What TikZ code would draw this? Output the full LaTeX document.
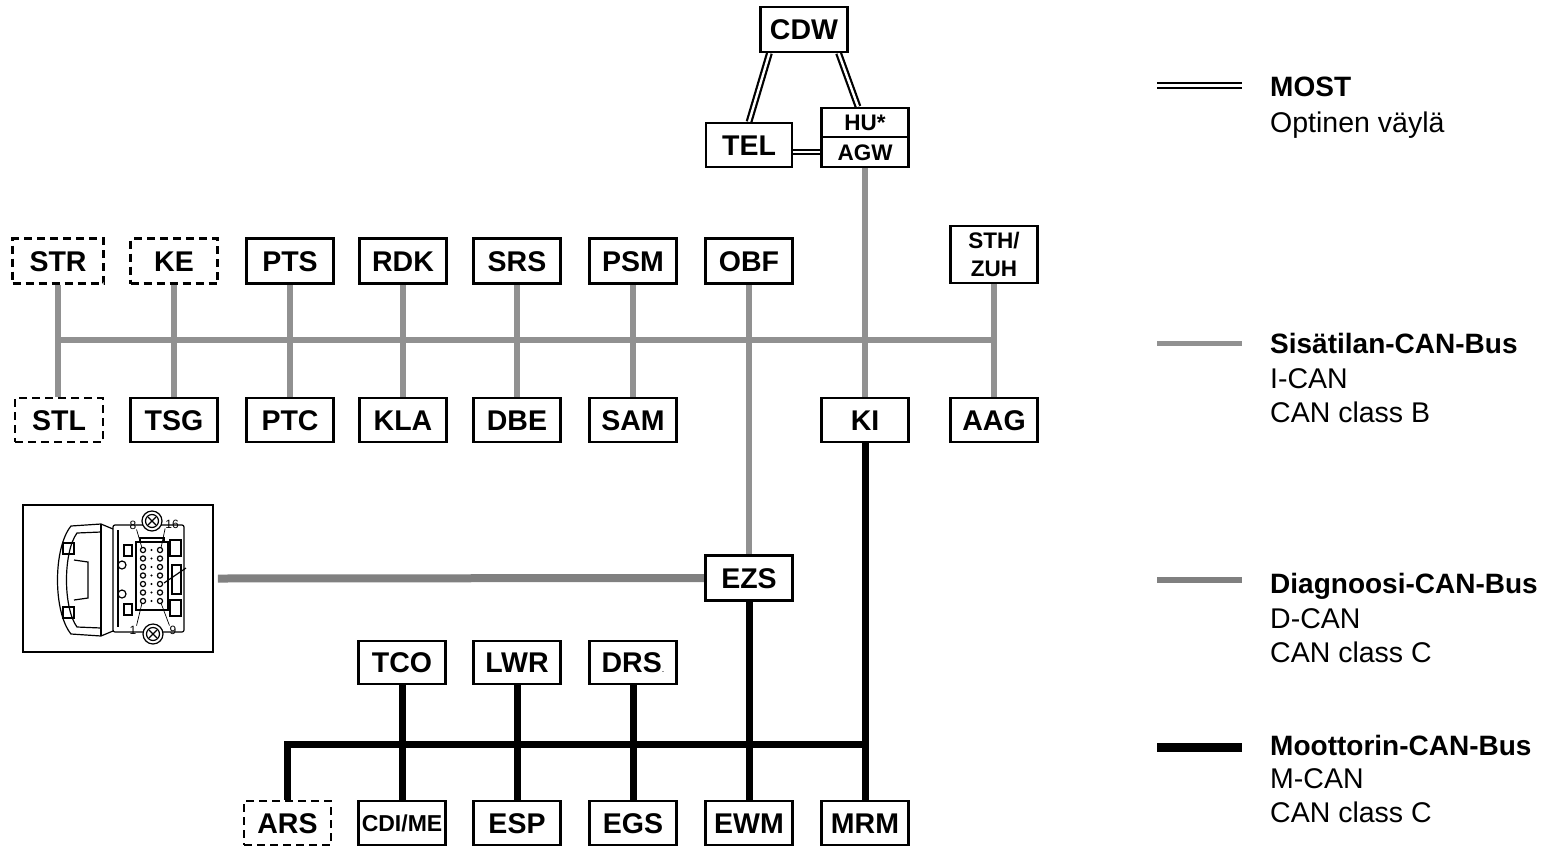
\documentclass[tikz,border=0pt]{standalone}
\usepackage{fontspec}
\setmainfont{Liberation Sans}
\definecolor{icangray}{gray}{0.57}
\definecolor{dcangray}{gray}{0.5}
\pgfdeclarelayer{bg}
\pgfsetlayers{bg,main}
\begin{document}
\begin{tikzpicture}[x=1pt,y=-1pt,
  boxbase/.style={draw, line width=2.1pt, fill=white, minimum width=87pt, minimum height=45pt, inner sep=0pt},
  box/.style={boxbase, text height=20.5pt, text depth=0pt, font=\fontsize{28.5}{30}\selectfont\bfseries},
  dbox/.style={box, dash pattern=on 8pt off 5pt},
  sbox/.style={boxbase, text height=16pt, text depth=0pt, font=\fontsize{22.5}{26}\selectfont\bfseries},
  ican/.style={line width=6pt, draw=icangray},
  dcan/.style={line width=8pt, draw=dcangray},
  mcan/.style={line width=7pt, draw=black, line join=miter},
  most/.style={line width=2.2pt, draw=black, double=white, double distance=2.4pt},
  legb/.style={anchor=base west, inner sep=0pt, font=\fontsize{28}{30}\selectfont\bfseries},
  legr/.style={anchor=base west, inner sep=0pt, font=\fontsize{28.5}{30}\selectfont},
  pinlbl/.style={inner sep=0pt, font=\fontsize{12}{12}\selectfont}
]
\useasboundingbox (0,0) rectangle (1554,846);

% ---------- top MOST ring ----------
\node[box] (CDW) at (804,29.5) {CDW};
\node[box, minimum width=86pt, minimum height=44pt] (TEL) at (749,145) {TEL};
\node[sbox, minimum height=29.5pt] (HU) at (865,122.5) {HU*};
\node[sbox, minimum height=30pt] (AGW) at (865,152) {AGW};

% ---------- I-CAN row ----------
\node[dbox, minimum width=91pt] (STR) at (58,261) {STR};
\node[dbox] (KE) at (174,261) {KE};
\node[box] (PTS) at (290,261) {PTS};
\node[box] (RDK) at (403,261) {RDK};
\node[box] (SRS) at (517,261) {SRS};
\node[box] (PSM) at (633,261) {PSM};
\node[box] (OBF) at (749,261) {OBF};
\node[boxbase, minimum height=57pt, align=center, font=\fontsize{22.5}{28}\selectfont\bfseries] (STH) at (994,254.5) {STH/\\ZUH};

\node[dbox, minimum width=88pt, minimum height=44pt] (STL) at (59,420) {STL};
\node[box, minimum height=44pt] (TSG) at (174,420) {TSG};
\node[box, minimum height=44pt] (PTC) at (290,420) {PTC};
\node[box, minimum height=44pt] (KLA) at (403,420) {KLA};
\node[box, minimum height=44pt] (DBE) at (517,420) {DBE};
\node[box, minimum height=44pt] (SAM) at (633,420) {SAM};
\node[box, minimum height=44pt] (KI) at (865,420) {KI};
\node[box, minimum height=44pt] (AAG) at (994,420) {AAG};

% ---------- EZS / M-CAN ----------
\node[box] (EZS) at (749,578) {EZS};
\node[box, minimum height=43pt] (TCO) at (402,662.5) {TCO};
\node[box, minimum height=43pt] (LWR) at (517,662.5) {LWR};
\node[box, minimum height=43pt] (DRS) at (633,662.5) {DRS{\fontsize{9}{9}\selectfont\mdseries.}};

\node[dbox, minimum height=44pt] (ARS) at (287.5,823) {ARS};
\node[boxbase, minimum height=44pt, text height=17pt, text depth=0pt, font=\fontsize{23}{26}\selectfont\bfseries] (CDI) at (402,823) {CDI/ME};
\node[box, minimum height=44pt] (ESP) at (517,823) {ESP};
\node[box, minimum height=44pt] (EGS) at (633,823) {EGS};
\node[box, minimum height=44pt] (EWM) at (749,823) {EWM};
\node[box, minimum height=44pt] (MRM) at (865,823) {MRM};

% ---------- diagnostic connector ----------
\node[draw, line width=1.8pt, minimum width=190pt, minimum height=147pt, inner sep=0pt] (OBD) at (118,578.5) {};
\begin{scope}[line width=1.2pt]
  % latch (left bracket)
  \draw (113,529) -- (101,524) -- (71,526) .. controls (53,548) and (53,612) .. (71,634) -- (101,636) -- (113,631);
  \draw (101,532) -- (77,533) .. controls (63,552) and (63,608) .. (77,627) -- (101,628);
  \draw (101,524) -- (101,636);
  \draw (63,543) rectangle (74,554);
  \draw (63,607) rectangle (74,618);
  \draw (74,560) -- (88,562) -- (88,598) -- (74,600);
  % body
  \draw[rounded corners=2pt] (113,525) rectangle (184,632);
  \draw (118,530) -- (118,627);
  \draw (122,565) circle (4);
  \draw (122,594) circle (4);
  \draw (124,545) rectangle (132,556);
  \draw (124,604) rectangle (132,615);
  % mounting ears
  \draw[fill=white] (152,521) circle (10);
  \draw (152,521) circle (6.5);
  \draw (148,517) -- (156,525) (148,525) -- (156,517);
  \draw[fill=white] (153,634) circle (10);
  \draw (153,634) circle (6.5);
  \draw (149,630) -- (157,638) (149,638) -- (157,630);
  % pin block
  \draw (136,542) rectangle (168,610);
  \draw (140,538) rectangle (164,542);
  \foreach \r in {0,...,6} {
    \draw (143,{550+\r*8.5}) circle (2.6);
    \draw (160,{550+\r*8.5}) circle (2.6);
    \fill (151.5,{550+\r*8.5}) circle (1.2);
  }
  % right side latches
  \draw (170,540) rectangle (181,556);
  \draw (170,600) rectangle (181,616);
  \draw (172,565) rectangle (181,594);
  \draw (186,568) -- (164,583);
\end{scope}
\node[pinlbl] (p8) at (133,525) {8};
\node[pinlbl] (p16) at (172,524) {16};
\node[pinlbl] (p1) at (133,630) {1};
\node[pinlbl] (p9) at (173,630) {9};
\draw[line width=0.7pt] (p8.south east) -- (142,548);
\draw[line width=0.7pt] (p16.south west) -- (161,548);
\draw[line width=0.7pt] (p1.north east) -- (142,603);
\draw[line width=0.7pt] (p9.north west) -- (161,603);

% ---------- legend ----------
\coordinate (lm1) at (1157,85.5);  \coordinate (lm2) at (1242,85.5);
\coordinate (li1) at (1157,343);   \coordinate (li2) at (1242,343);
\coordinate (ld1) at (1157,580);   \coordinate (ld2) at (1242,580);
\coordinate (lc1) at (1157,747.5); \coordinate (lc2) at (1242,747.5);
\draw[most] (lm1) -- (lm2);
\draw[line width=5pt, draw=icangray] (li1) -- (li2);
\draw[line width=5.5pt, draw=dcangray] (ld1) -- (ld2);
\draw[line width=8.5pt, draw=black] (lc1) -- (lc2);

\node[legb] (tm1) at (1270,96) {MOST};
\node[legr] (tm2) at (1270,132) {Optinen väylä};
\node[legb] (ti1) at (1270,353) {Sisätilan-CAN-Bus};
\node[legr] (ti2) at (1270,388) {I-CAN};
\node[legr] (ti3) at (1270,422) {CAN class B};
\node[legb] (td1) at (1270,593) {Diagnoosi-CAN-Bus};
\node[legr] (td2) at (1270,628) {D-CAN};
\node[legr] (td3) at (1270,662) {CAN class C};
\node[legb] (tc1) at (1270,755) {Moottorin-CAN-Bus};
\node[legr] (tc2) at (1270,788) {M-CAN};
\node[legr] (tc3) at (1270,822) {CAN class C};

% ---------- connectors (behind boxes) ----------
\begin{pgfonlayer}{bg}
  % MOST
  \draw[most] ([xshift=10pt]CDW.south west) -- (TEL.north);
  \draw[most] ([xshift=-10pt]CDW.south east) -- ([xshift=-7pt]HU.north);
  \draw[most] (TEL.east |- AGW.west) -- (AGW.west);
  % I-CAN
  \coordinate (ib1) at (58,340);
  \coordinate (ib2) at (994,340);
  \draw[ican] (ib1) -- (ib2);
  \draw[ican] (STR.south -| ib1) -- (STL.north -| ib1);
  \draw[ican] (KE) -- (TSG);
  \draw[ican] (PTS) -- (PTC);
  \draw[ican] (RDK) -- (KLA);
  \draw[ican] (SRS) -- (DBE);
  \draw[ican] (PSM) -- (SAM);
  \draw[ican] (OBF) -- (EZS);
  \draw[ican] (AGW) -- (KI);
  \draw[ican] (STH) -- (AAG);
  % D-CAN
  \draw[dcan] ([xshift=4pt]OBD.east) -- (EZS.west);
  % M-CAN
  \coordinate (mb) at (865,744);
  \draw[mcan] (ARS.north) |- (mb);
  \draw[mcan] (TCO) -- (CDI);
  \draw[mcan] (LWR) -- (ESP);
  \draw[mcan] (DRS) -- (EGS);
  \draw[mcan] (EZS) -- (EWM);
  \draw[mcan] (KI) -- (MRM);
\end{pgfonlayer}
\end{tikzpicture}
\end{document}
